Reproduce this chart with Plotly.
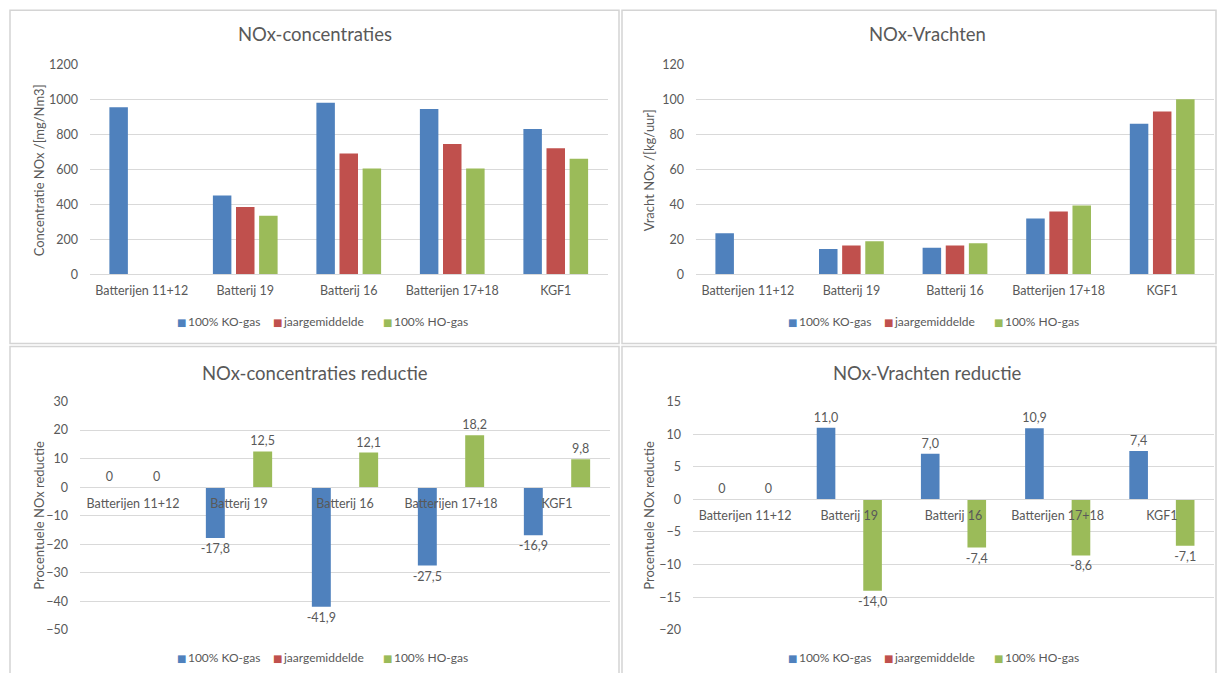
import plotly.graph_objects as go

# ---------------- data ----------------
categories = ["Batterijen 11+12", "Batterij 19", "Batterij 16", "Batterijen 17+18", "KGF1"]
series_names = ["100% KO-gas", "jaargemiddelde", "100% HO-gas"]

conc_ko = [955, 450, 980, 945, 830]
conc_jaar = [None, 385, 690, 745, 720]
conc_ho = [None, 335, 605, 605, 660]

vracht_ko = [23.5, 14.5, 15.3, 32.0, 86.0]
vracht_jaar = [None, 16.5, 16.5, 36.0, 93.0]
vracht_ho = [None, 19.0, 17.8, 39.3, 100.0]

red_conc_ko = [0, -17.8, -41.9, -27.5, -16.9]
red_conc_jaar = [None, None, None, None, None]
red_conc_ho = [0, 12.5, 12.1, 18.2, 9.8]

red_vracht_ko = [0, 11.0, 7.0, 10.9, 7.4]
red_vracht_jaar = [None, None, None, None, None]
red_vracht_ho = [0, -14.0, -7.4, -8.6, -7.1]

titles = ["NOx-concentraties", "NOx-Vrachten", "NOx-concentraties reductie", "NOx-Vrachten reductie"]
ytitles = ["Concentratie NOx /[mg/Nm3]", "Vracht NOx /[kg/uur]", "Procentuele NOx reductie", "Procentuele NOx reductie"]

# ---------------- style ----------------
W, H = 1217, 673
COLORS = ["#4F81BD", "#C0504D", "#9BBB59"]
TXT = "#595959"
GRID = "#D9D9D9"
FONT = "Lato, 'Open Sans', sans-serif"
VSCALE = 689 / 673      # vertical calibration of the captured page
VOFF = 8


def clamp(v):
    return min(1.0, max(0.0, v))


def fx(x):            # target pixel -> paper fraction
    return x / W


def fy(y):
    return 1 - (y * VSCALE - VOFF) / H


def lab(v):
    if v is None:
        return ""
    if v == 0:
        return "0"
    return f"{v:.1f}".replace(".", ",")


fig = go.Figure()

panels = [
    ([conc_ko, conc_jaar, conc_ho], "x", "y", False),
    ([vracht_ko, vracht_jaar, vracht_ho], "x2", "y2", False),
    ([red_conc_ko, red_conc_jaar, red_conc_ho], "x3", "y3", True),
    ([red_vracht_ko, red_vracht_jaar, red_vracht_ho], "x4", "y4", True),
]

for series, xa, ya, labels in panels:
    for name, vals, col in zip(series_names, series, COLORS):
        kw = {}
        if labels:
            kw = dict(text=[lab(v) for v in vals], textposition="outside",
                      textfont=dict(family=FONT, size=12.5, color=TXT),
                      constraintext="none", cliponaxis=False)
        fig.add_trace(go.Bar(x=categories, y=vals, name=name, marker_color=col,
                             marker_line_width=0, xaxis=xa, yaxis=ya, showlegend=False,
                             **kw))

# axis geometry (target pixels)
geo = {
    1: dict(x0=90, x1=607.5, ytop=64, ybot=274, rng=[0, 1200], dt=200),
    2: dict(x0=696, x1=1214, ytop=64, ybot=274, rng=[0, 120], dt=20),
    3: dict(x0=80, x1=610, ytop=401, ybot=629, rng=[-50, 30], dt=10),
    4: dict(x0=693, x1=1214, ytop=401, ybot=629, rng=[-20, 15], dt=5),
}

tickfont = dict(family=FONT, size=12.5, color=TXT)
for i, g in geo.items():
    sfx = "" if i == 1 else str(i)
    ydom = [clamp(fy(g["ybot"])), clamp(fy(g["ytop"]))]
    xa = dict(domain=[clamp(fx(g["x0"])), clamp(fx(g["x1"]))], type="category", showgrid=False,
              showline=True, linecolor=GRID, linewidth=1, ticks="",
              tickfont=tickfont, ticklabelstandoff=5, fixedrange=True)
    if g["rng"][0] < 0:
        pos = ydom[0] + (0 - g["rng"][0]) / (g["rng"][1] - g["rng"][0]) * (ydom[1] - ydom[0])
        xa.update(anchor="free", position=pos)
    else:
        xa.update(anchor="y" + sfx)
    ya = dict(domain=ydom, range=g["rng"], dtick=g["dt"], showgrid=True, gridcolor=GRID,
              gridwidth=1, zeroline=True, zerolinecolor=GRID, zerolinewidth=1,
              showline=False, ticks="", tickfont=tickfont, ticklabelstandoff=11,
              anchor="x" + sfx, fixedrange=True)
    fig.layout["xaxis" + sfx] = xa
    fig.layout["yaxis" + sfx] = ya

# panel frames
frames = [(10, 10, 619, 343), (622, 10, 1216, 343), (10, 346, 619, 690), (622, 346, 1216, 690)]
for (a, b, c, d) in frames:
    fig.add_shape(type="rect", xref="paper", yref="paper", x0=fx(a), x1=fx(c), y0=fy(d), y1=fy(b),
                  line=dict(color="#D4D4D4", width=1.5), fillcolor="rgba(0,0,0,0)", layer="below")

# titles and axis titles
title_pos = [(315, 34), (927, 34), (315, 372), (927, 372)]
ytitle_pos = [(39, 170), (649, 170), (39, 515), (649, 515)]
for t, (tx, ty) in zip(titles, title_pos):
    fig.add_annotation(text=t, x=fx(tx), y=fy(ty), xref="paper", yref="paper",
                       showarrow=False, xanchor="center", yanchor="middle",
                       font=dict(family=FONT, size=18.5, color=TXT))
for t, (tx, ty) in zip(ytitles, ytitle_pos):
    fig.add_annotation(text=t, x=fx(tx), y=fy(ty), xref="paper", yref="paper",
                       showarrow=False, xanchor="center", yanchor="middle", textangle=-90,
                       font=dict(family=FONT, size=13, color=TXT))

# legends (Excel style: small square key right next to the label)
legend_rows = [(0, 321), (611, 321), (0, 657), (611, 657)]
legend_item_x = [175, 271, 381]
for dx, ly in legend_rows:
    for name, col, lx in zip(series_names, COLORS, legend_item_x):
        fig.add_annotation(
            text=f'<span style="color:{col};font-family:DejaVu Sans;font-size:10px">■</span>&#8201;{name}',
            x=fx(lx + dx), y=fy(ly), xref="paper", yref="paper", showarrow=False,
            xanchor="left", yanchor="middle", font=dict(family=FONT, size=12, color=TXT))

fig.update_layout(
    width=W, height=H, margin=dict(l=0, r=0, t=0, b=0),
    paper_bgcolor="white", plot_bgcolor="white",
    barmode="group", bargap=0.33, bargroupgap=0.2,
    font=dict(family=FONT, color=TXT),
    showlegend=False,
)

fig.write_html("out.html", config={"displayModeBar": False},
               post_script="document.body.style.margin='0';document.body.style.overflow='hidden';")
